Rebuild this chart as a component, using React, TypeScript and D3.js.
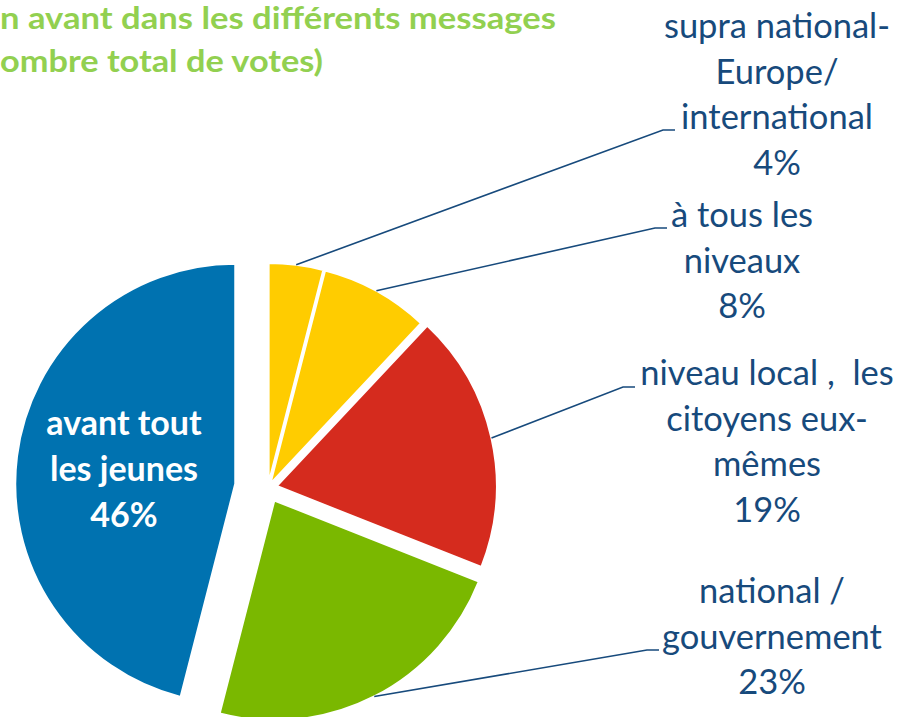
import { useEffect, useRef } from 'react';
import * as d3 from 'd3';

// parts of the total vote, clockwise from 12 o'clock
const categories = [
  'supra national-Europe/international',
  'à tous les niveaux',
  'niveau local , les citoyens eux-mêmes',
  'national / gouvernement',
  'avant tout les jeunes',
];
const shares = [4, 8, 19, 23, 46];
const sliceColors = ['#FFCC00', '#FFCC00', '#D52B1E', '#7AB800', '#0072B0'];

// label text, split the way the original wraps it
const labelLines = [
  ['supra national-', 'Europe/', 'international'],
  ['à tous les', 'niveaux'],
  ['niveau local ,  les', 'citoyens eux-', 'mêmes'],
  ['national /', 'gouvernement'],
  ['avant tout', 'les jeunes'],
];

const titleLines = ['n avant dans les différents messages', 'ombre total de votes)'];

const App = () => {
  const ref = useRef<SVGSVGElement>(null);

  useEffect(() => {
    const width = 899;
    const height = 717;
    const cx = 268;
    const cy = 488;
    const radius = 220;
    const explode = [5, 5, 9, 14, 33];
    // where each outside label sits (elbow of the leader, text centre, first baseline)
    const labelPos = [
      { ex: 663, ey: 130, tx: 777, ty: 38 },
      { ex: 655, ey: 228, tx: 742, ty: 227 },
      { ex: 623, ey: 387, tx: 767, ty: 385 },
      { ex: 647, ey: 650, tx: 772, ty: 603 },
    ];
    const lineH = 45.7;
    const navy = '#174A7C';

    const svg = d3.select(ref.current);
    svg.selectAll('*').remove();
    svg.attr('width', width).attr('height', height);

    const pie = d3
      .pie<number>()
      .sort(null)
      .value((d) => d);
    const arcs = pie(shares);

    const arc = d3.arc<d3.PieArcDatum<number>>().innerRadius(0).outerRadius(radius);
    const rim = d3.arc<d3.PieArcDatum<number>>().innerRadius(radius).outerRadius(radius);

    const offset = (d: d3.PieArcDatum<number>, i: number) => {
      const mid = (d.startAngle + d.endAngle) / 2;
      return [Math.sin(mid) * explode[i], -Math.cos(mid) * explode[i]];
    };

    const g = svg.append('g').attr('transform', `translate(${cx},${cy})`);

    g.selectAll('path.slice')
      .data(arcs)
      .enter()
      .append('path')
      .attr('class', 'slice')
      .attr('d', arc)
      .attr('transform', (d, i) => {
        const [ox, oy] = offset(d, i);
        return `translate(${ox},${oy})`;
      })
      .attr('fill', (d, i) => sliceColors[i])
      .attr('stroke', '#fff')
      .attr('stroke-width', 2);

    // leader lines + outside labels
    labelPos.forEach((p, i) => {
      const d = arcs[i];
      const [ox, oy] = offset(d, i);
      const [rx, ry] = rim.centroid(d);
      const sx = cx + rx + ox;
      const sy = cy + ry + oy;
      svg
        .append('polyline')
        .attr('points', `${sx},${sy} ${p.ex},${p.ey} ${p.ex + 12},${p.ey}`)
        .attr('fill', 'none')
        .attr('stroke', navy)
        .attr('stroke-width', 1.6);

      const lines = [...labelLines[i], `${shares[i]}%`];
      const t = svg
        .append('text')
        .attr('text-anchor', 'middle')
        .attr('font-family', 'Lato, "Open Sans", sans-serif')
        .attr('font-size', 34.5)
        .attr('fill', navy);
      lines.forEach((s, k) => {
        t.append('tspan')
          .attr('x', p.tx)
          .attr('y', p.ty + k * lineH)
          .attr('xml:space', 'preserve')
          .text(s);
      });
    });

    // label inside the big slice
    const inner = [...labelLines[4], `${shares[4]}%`];
    const bt = svg
      .append('text')
      .attr('text-anchor', 'middle')
      .attr('font-family', 'Lato, "Open Sans", sans-serif')
      .attr('font-weight', 'bold')
      .attr('font-size', 34)
      .attr('fill', '#fff');
    inner.forEach((s, k) => {
      bt.append('tspan')
        .attr('x', 124)
        .attr('y', 435 + k * 46)
        .text(s);
    });

    // title, cut off at the left edge like the original
    const titleEnds = [556, 323];
    titleLines.forEach((s, k) => {
      svg
        .append('text')
        .attr('x', 0)
        .attr('y', 29 + k * 43)
        .attr('textLength', titleEnds[k])
        .attr('lengthAdjust', 'spacingAndGlyphs')
        .attr('font-family', 'Lato, "Open Sans", sans-serif')
        .attr('font-weight', 'bold')
        .attr('font-size', 30)
        .attr('fill', '#92D050')
        .text(s);
    });
  }, []);

  return (
    <svg
      ref={ref}
      style={{ position: 'absolute', left: 0, top: 0, background: '#fff' }}
    />
  );
};

export default App;
